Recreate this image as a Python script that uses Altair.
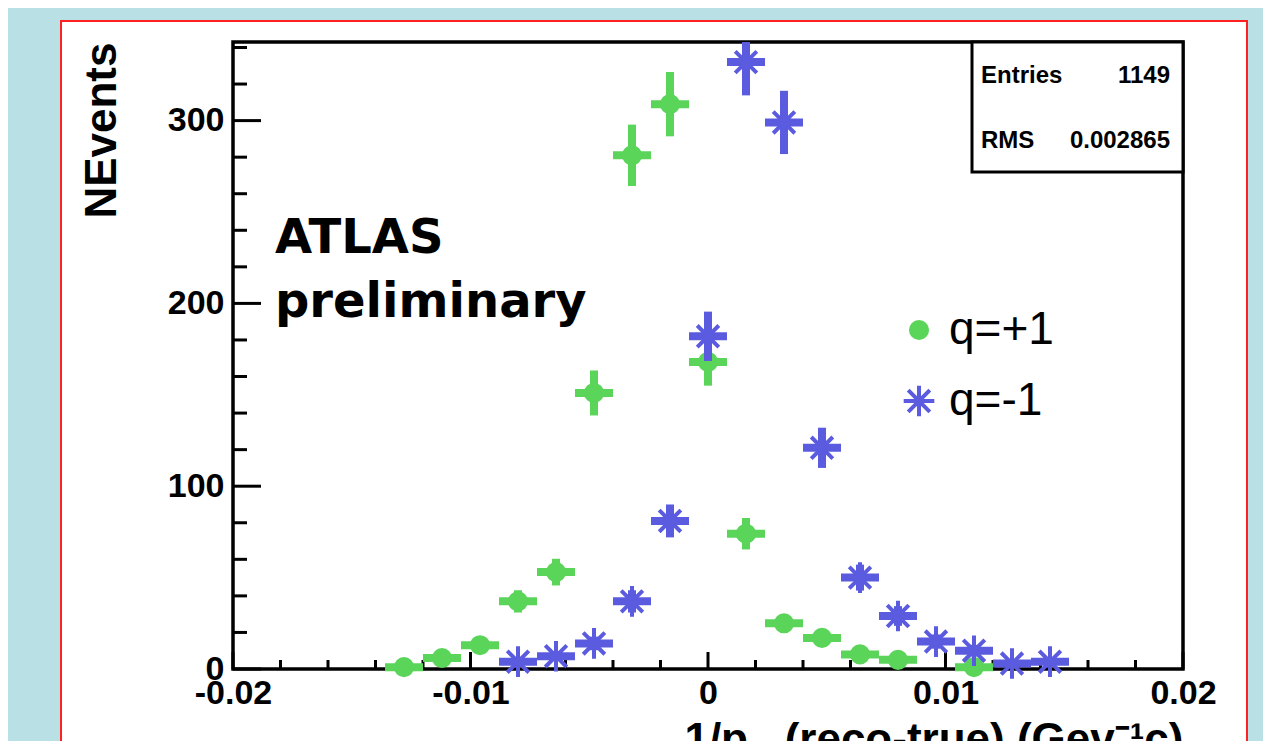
import altair as alt
import pandas as pd

# ---------------- data ----------------
series_labels = ["q=+1", "q=-1"]

pos_centers = [-0.0128, -0.0112, -0.0096, -0.0080, -0.0064, -0.0048, -0.0032, -0.0016,
               0.0, 0.0016, 0.0032, 0.0048, 0.0064, 0.0080, 0.0112]
pos_counts = [1, 6, 13, 37, 53, 151, 281, 309, 168, 74, 25, 17, 8, 5, 1]
pos_errors = [1.0, 2.4, 3.6, 6.1, 7.3, 12.3, 16.8, 17.6, 13.0, 8.6, 5.0, 4.1, 2.8, 2.2, 1.0]

neg_centers = [-0.0080, -0.0064, -0.0048, -0.0032, -0.0016, 0.0, 0.0016, 0.0032,
               0.0048, 0.0064, 0.0080, 0.0096, 0.0112, 0.0128, 0.0144]
neg_counts = [4, 7, 14, 37, 81, 182, 332, 299, 121, 50, 29, 15, 10, 3, 4]
neg_errors = [2.0, 2.6, 3.7, 6.1, 9.0, 13.5, 18.2, 17.3, 11.0, 7.1, 5.4, 3.9, 3.2, 1.7, 2.0]

bin_half_width = 0.0008

x_major_ticks = [-0.02, -0.01, 0.0, 0.01, 0.02]
x_minor_ticks = [-0.018, -0.016, -0.014, -0.012, -0.008, -0.006, -0.004, -0.002,
                 0.002, 0.004, 0.006, 0.008, 0.012, 0.014, 0.016, 0.018]
y_major_ticks = [0, 100, 200, 300]
y_minor_ticks = [20, 40, 60, 80, 120, 140, 160, 180, 220, 240, 260, 280, 320, 340]

stats_labels = ["Entries", "RMS"]
stats_values = ["1149", "0.002865"]
atlas_lines = ["ATLAS", "preliminary"]
x_title = "1/p\u00a0\u00a0\u00a0(reco-true) (Gev\u207b\u00b9c)"
y_title = "NEvents"

# ---------------- styling ----------------
GREEN = "#5ad55a"
BLUE = "#5b5bdf"
BG = "#b9e0e4"
W, H = 950, 627
FONT = "Liberation Sans"
ASTERISK = ("M0,-1.9L0,1.9M-1.9,0L1.9,0"
            "M-1.34,-1.34L1.34,1.34M-1.34,1.34L1.34,-1.34")

pos_df = pd.DataFrame({"x": pos_centers, "n": pos_counts, "err": pos_errors, "q": series_labels[0]})
neg_df = pd.DataFrame({"x": neg_centers, "n": neg_counts, "err": neg_errors, "q": series_labels[1]})

xscale = alt.Scale(domain=[-0.02, 0.02], nice=False, zero=False)
yscale = alt.Scale(domain=[0, 343], nice=False, zero=False)

xaxis = alt.Axis(
    title=x_title, values=x_major_ticks,
    labelExpr="datum.value == 0 ? '0' : (datum.value < 0 ? '-' : '') + format(abs(datum.value), '.2f')",
    domain=False, ticks=False, grid=False, labelFlush=False, labelOverlap=False,
    labelPadding=7, labelFont=FONT, labelFontSize=34, labelFontWeight="bold", labelColor="black",
    titleFont=FONT, titleFontSize=44, titleFontWeight="bold", titleColor="black",
    titleAlign="right", titleBaseline="alphabetic", titleX=W, titleY=84, zindex=1,
)
yaxis = alt.Axis(
    title=y_title, values=y_major_ticks, format="d",
    domain=False, ticks=False, grid=False, labelFlush=False, labelOverlap=False,
    labelPadding=9, labelFont=FONT, labelFontSize=34, labelFontWeight="bold", labelColor="black",
    titleFont=FONT, titleFontSize=44, titleFontWeight="bold", titleColor="black",
    titleAngle=270, titleAlign="right", titleBaseline="middle", titleX=-131, titleY=0, zindex=1,
)

one = pd.DataFrame({"d": [0]})

panel = alt.Chart(one).mark_rect(fill="white", stroke="#ff2020", strokeWidth=2).encode(
    x=alt.value(-172), x2=alt.value(1014), y=alt.value(-21), y2=alt.value(720))
frame = alt.Chart(one).mark_rect(fill="transparent", stroke="black", strokeWidth=3.5).encode(
    x=alt.value(0), x2=alt.value(W), y=alt.value(0), y2=alt.value(H))


def xticks(vals, length):
    return alt.Chart(pd.DataFrame({"v": vals})).mark_rule(color="black", strokeWidth=3).encode(
        x=alt.X("v:Q", scale=xscale, axis=xaxis), y=alt.value(H), y2=alt.value(H - length))


def yticks(vals, length):
    return alt.Chart(pd.DataFrame({"v": vals})).mark_rule(color="black", strokeWidth=3).encode(
        y=alt.Y("v:Q", scale=yscale, axis=yaxis), x=alt.value(0), x2=alt.value(length))


def text_layer(t, x, y, size, align="left", weight="bold", font=FONT):
    return alt.Chart(pd.DataFrame({"t": [t]})).mark_text(
        font=font, fontSize=size, fontWeight=weight, align=align, baseline="alphabetic", color="black"
    ).encode(text="t:N", x=alt.value(x), y=alt.value(y))


stats_box = alt.Chart(one).mark_rect(fill="white", stroke="black", strokeWidth=3).encode(
    x=alt.value(739), x2=alt.value(W), y=alt.value(0), y2=alt.value(130))
stats_texts = [
    text_layer(stats_labels[0], 748, 41, 24),
    text_layer(stats_values[0], 937, 41, 24, align="right"),
    text_layer(stats_labels[1], 748, 106, 24),
    text_layer(stats_values[1], 937, 106, 24, align="right"),
]
atlas_texts = [
    text_layer(atlas_lines[0], 42, 211, 48, font="DejaVu Sans"),
    text_layer(atlas_lines[1], 42, 275, 48, font="DejaVu Sans"),
]

legend = alt.Legend(
    title=None, orient="none", legendX=663, legendY=265, padding=0,
    labelFont=FONT, labelFontSize=46, labelColor="black", labelOffset=7, rowPadding=24,
    symbolSize=260, symbolStrokeWidth=4,
)


def err_layers(df, color):
    base = alt.Chart(df).transform_calculate(
        lo="datum.n - datum.err", hi="datum.n + datum.err",
        xlo=f"datum.x - {bin_half_width}", xhi=f"datum.x + {bin_half_width}")
    vert = base.mark_rule(color=color, strokeWidth=8, clip=True).encode(
        x=alt.X("x:Q", scale=xscale, axis=xaxis),
        y=alt.Y("lo:Q", scale=yscale, axis=yaxis), y2="hi:Q")
    horiz = base.mark_rule(color=color, strokeWidth=8).encode(
        x=alt.X("xlo:Q", scale=xscale, axis=xaxis), x2="xhi:Q",
        y=alt.Y("n:Q", scale=yscale, axis=yaxis))
    return [vert, horiz]


def marker_layer(df):
    return alt.Chart(df).mark_point(size=260, strokeWidth=4, opacity=1, filled=True).encode(
        x=alt.X("x:Q", scale=xscale, axis=xaxis),
        y=alt.Y("n:Q", scale=yscale, axis=yaxis),
        shape=alt.Shape("q:N", scale=alt.Scale(domain=series_labels, range=["circle", ASTERISK]), legend=legend),
        fill=alt.Fill("q:N", scale=alt.Scale(domain=series_labels, range=[GREEN, "transparent"]), legend=legend),
        stroke=alt.Stroke("q:N", scale=alt.Scale(domain=series_labels, range=[GREEN, BLUE]), legend=legend),
    )


layers = [panel, frame,
          xticks(x_major_ticks, 17), xticks(x_minor_ticks, 9),
          yticks(y_major_ticks, 28), yticks(y_minor_ticks, 14),
          stats_box, *stats_texts, *atlas_texts,
          *err_layers(pos_df, GREEN), marker_layer(pos_df),
          *err_layers(neg_df, BLUE), marker_layer(neg_df)]

chart = alt.layer(*layers).properties(
    width=W, height=H,
    padding={"left": 225, "top": 34, "right": 80, "bottom": 72},
    autosize=alt.AutoSizeParams(type="none"),
    background=BG,
).configure_view(strokeWidth=0)

chart.save("out.html", embed_options={"renderer": "svg", "actions": False})
